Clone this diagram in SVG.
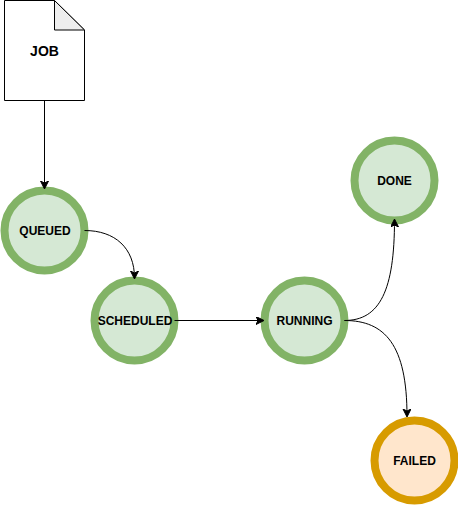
<svg xmlns="http://www.w3.org/2000/svg" width="458" height="505" viewBox="0 0 458 505">
<style>
text{font-family:"Liberation Sans",Arial,sans-serif;font-size:12px;font-weight:bold;fill:#000;text-anchor:middle}
.g{fill:#d5e8d4;stroke:#82b366;stroke-width:8}
.o{fill:#ffe6cc;stroke:#d79b00;stroke-width:8}
.c{fill:none;stroke:#000;stroke-width:1}
</style>
<defs><marker id="a" markerUnits="userSpaceOnUse" markerWidth="10" markerHeight="10" refX="7" refY="4" orient="auto"><path d="M0 0L8 4L0 8L2 4Z" fill="#000" stroke="#000" stroke-width="1"/></marker></defs>
<rect width="458" height="505" fill="#fff"/>
<g id="job"><path d="M4.500 .5H54.500L84.500 30V100.500H4.500Z" fill="#fff" stroke="#000"/><path d="M54.500 .5V30H84.500Z" fill="#eee" stroke="#000"/><text x="44.500" y="56" style="font-size:14px">JOB</text></g>
<g id="queued"><circle class="g" cx="44.500" cy="230.500" r="40"/><text x="45" y="235">QUEUED</text></g>
<g id="scheduled"><circle class="g" cx="134.500" cy="320.500" r="40"/><text x="135" y="325">SCHEDULED</text></g>
<g id="running"><circle class="g" cx="304.500" cy="320.500" r="40"/><text x="304.500" y="325">RUNNING</text></g>
<g id="done"><circle class="g" cx="394.500" cy="180.500" r="40"/><text x="394.500" y="185">DONE</text></g>
<g id="failed"><circle class="o" cx="414.500" cy="460.500" r="40"/><text x="414.500" y="465">FAILED</text></g>
<g id="connectors">
<path class="c" marker-end="url(#a)" d="M44.500 100.500V188"/>
<path class="c" marker-end="url(#a)" d="M84.500 230.500C115 230.500 134.500 248 134.500 278"/>
<path class="c" marker-end="url(#a)" d="M174.500 320.500H263"/>
<path class="c" marker-end="url(#a)" d="M344.500 320.500C380 320.500 394.500 290 394.500 220"/>
<path class="c" marker-end="url(#a)" d="M344.500 320.500C385 320.500 407 345 407 416"/>
</g>
</svg>
